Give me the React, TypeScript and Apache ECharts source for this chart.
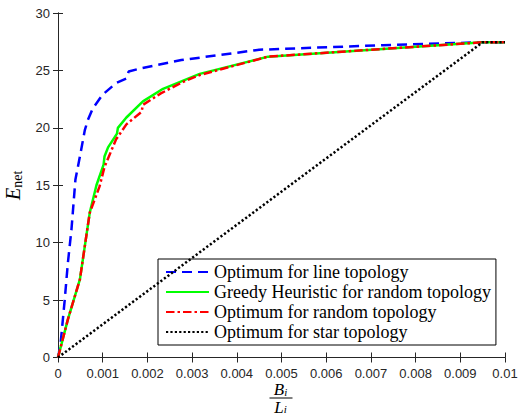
import React, { useEffect, useRef } from "react";
import * as echarts from "echarts";

const lineX = [0, 0.00002, 0.00006, 0.00015, 0.00022, 0.0003, 0.00039, 0.00049, 0.0006, 0.00067, 0.00078, 0.001, 0.0013, 0.00153, 0.00158, 0.00187, 0.00276, 0.0045, 0.00727, 0.0095, 0.01];
const lineY = [0, 0.4, 1.3, 5, 8.2, 11.1, 15.5, 17.5, 19.8, 20.7, 21.7, 22.9, 23.9, 24.3, 24.9, 25.2, 25.9, 26.8, 27.2, 27.45, 27.45];

const greedyX = [0, 0.00022, 0.00049, 0.0006, 0.00071, 0.00086, 0.00102, 0.00104, 0.00112, 0.00132, 0.00134, 0.00153, 0.0019, 0.00235, 0.00317, 0.0047, 0.0095, 0.01];
const greedyY = [0, 3.3, 6.8, 9.7, 12.6, 15.0, 16.8, 17.5, 18.3, 19.5, 20.0, 20.9, 22.3, 23.4, 24.7, 26.2, 27.45, 27.45];

const randomX = [0, 0.00022, 0.00049, 0.0006, 0.00071, 0.00093, 0.00104, 0.0013, 0.00153, 0.00187, 0.0019, 0.0023, 0.0028, 0.00317, 0.0047, 0.0095, 0.01];
const randomY = [0, 3.3, 6.8, 9.7, 12.6, 14.9, 16.6, 19.0, 20.3, 21.4, 22.0, 23.0, 24.0, 24.6, 26.2, 27.45, 27.45];

const starX = [0, 0.0095, 0.01];
const starY = [0, 27.45, 27.45];

const seriesNames = [
  "Optimum for line topology",
  "Greedy Heuristic for random topology",
  "Optimum for random topology",
  "Optimum for star topology",
];

const xTicks = { min: 0, max: 0.01, interval: 0.001 };
const yTicks = { min: 0, max: 30, interval: 5 };

const zip = (xs: number[], ys: number[]) => xs.map((x, i) => [x, ys[i]]);

export default function App() {
  const ref = useRef<HTMLDivElement>(null);
  useEffect(() => {
    if (!ref.current) return;
    const chart = echarts.init(ref.current, undefined, { renderer: "svg" });
    const axisColor = "#262626";
    const sans = "Liberation Sans";
    const serif = "Liberation Serif";
    const common = {
      axisLine: { show: true, lineStyle: { color: axisColor, width: 1 } },
      axisTick: { show: true, inside: true, length: 5, lineStyle: { color: axisColor } },
      splitLine: { show: false },
    };
    const fracRich = {
      b: { fontFamily: serif, fontStyle: "italic", fontSize: 17, fill: "#000", lineHeight: 16 },
      i: { fontFamily: serif, fontStyle: "italic", fontSize: 11, fill: "#000", padding: [4, 0, 0, 0], lineHeight: 12 },
    };
    const legendText = {
      fontFamily: serif,
      fontSize: 18,
      color: "#000",
      lineHeight: 20,
    };
    chart.setOption({
      animation: false,
      backgroundColor: "#fff",
      grid: { left: 58, right: 13, top: 13, bottom: 58.5, outerBoundsMode: "none", containLabel: false },
      xAxis: [
        {
          type: "value",
          ...xTicks,
          ...common,
          axisLabel: {
            color: axisColor,
            fontFamily: sans,
            fontSize: 13,
            margin: 9,
            formatter: (v: number) => String(Number(v.toFixed(3))),
          },
        },
        {
          type: "value",
          position: "top",
          ...xTicks,
          ...common,
          axisLabel: { show: false },
        },
      ],
      yAxis: [
        {
          type: "value",
          ...yTicks,
          ...common,
          axisLabel: { color: axisColor, fontFamily: sans, fontSize: 13, margin: 8 },
          name: "{e|E}{s|net}",
          nameLocation: "middle",
          nameGap: 31,
          nameTextStyle: {
            rich: {
              e: { fontFamily: serif, fontStyle: "italic", fontSize: 20, color: "#000", lineHeight: 24 },
              s: { fontFamily: serif, fontSize: 14, color: "#000", padding: [10, 0, 0, 0], lineHeight: 24 },
            },
          },
        },
        {
          type: "value",
          position: "right",
          ...yTicks,
          ...common,
          axisLabel: { show: false },
        },
      ],
      legend: {
        data: seriesNames.map((name) => ({ name, textStyle: legendText })),
        orient: "vertical",
        left: 158,
        top: 259,
        padding: [3, 5, 3, 7],
        itemGap: 0,
        itemWidth: 43,
        itemHeight: 14,
        borderColor: "#000",
        borderWidth: 1,
        backgroundColor: "#fff",
        borderRadius: 0,
        itemStyle: { opacity: 0 },
        textStyle: legendText,
      },
      graphic: [
        {
          type: "group",
          left: 267,
          top: 381,
          children: [
            {
              type: "text",
              x: 15,
              y: 0,
              style: { text: "{b|B}{i|i}", align: "center", rich: fracRich },
            },
            {
              type: "line",
              shape: { x1: 4, y1: 16.5, x2: 27, y2: 16.5 },
              style: { stroke: "#000", lineWidth: 1 },
            },
            {
              type: "text",
              x: 15,
              y: 17.5,
              style: { text: "{b|L}{i|i}", align: "center", rich: fracRich },
            },
          ],
        },
      ],
      series: [
        {
          name: seriesNames[0],
          type: "line",
          data: zip(lineX, lineY),
          symbol: "none",
          lineStyle: { color: "#0000ff", width: 2.5, type: [10, 6] },
          itemStyle: { color: "#0000ff" },
          z: 2,
        },
        {
          name: seriesNames[1],
          type: "line",
          data: zip(greedyX, greedyY),
          symbol: "none",
          lineStyle: { color: "#00ff00", width: 2.5, type: "solid" },
          itemStyle: { color: "#00ff00" },
          z: 3,
        },
        {
          name: seriesNames[2],
          type: "line",
          data: zip(randomX, randomY),
          symbol: "none",
          lineStyle: { color: "#ff0000", width: 2.5, type: [8.5, 3, 2.5, 3] },
          itemStyle: { color: "#ff0000" },
          z: 4,
        },
        {
          name: seriesNames[3],
          type: "line",
          data: zip(starX, starY),
          symbol: "none",
          lineStyle: { color: "#000000", width: 2.5, type: [2.2, 2.2] },
          itemStyle: { color: "#000000" },
          z: 5,
        },
      ],
    });
    return () => chart.dispose();
  }, []);
  return <div ref={ref} style={{ width: 518, height: 416, position: "absolute", left: 0, top: 0 }} />;
}
